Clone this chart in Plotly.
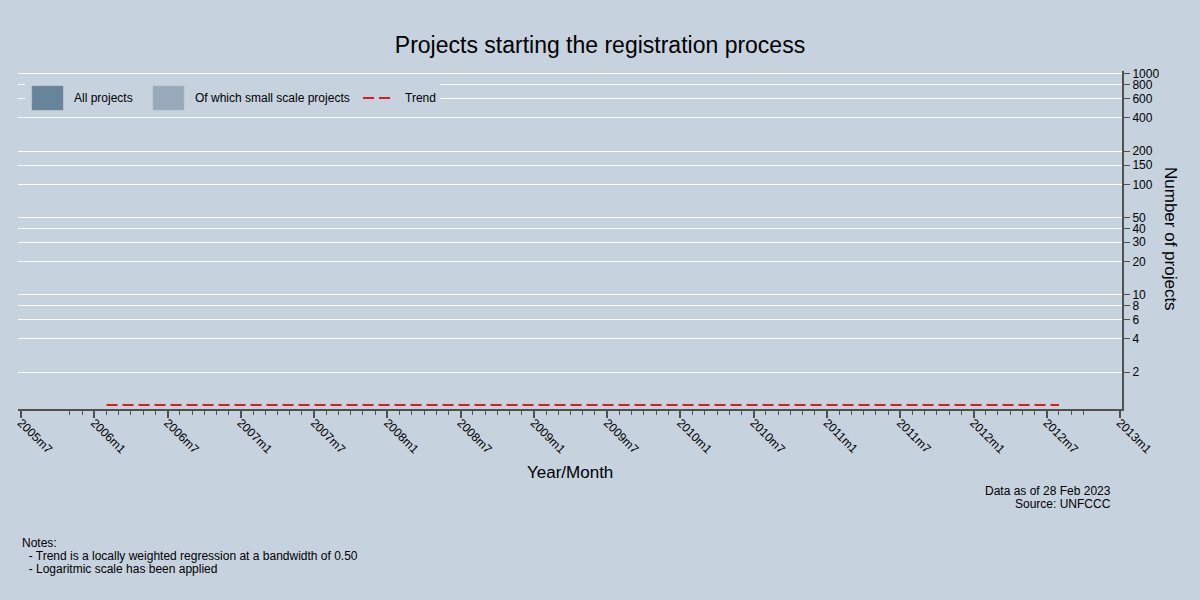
import plotly.graph_objects as go

# ---- data ----
# month index: 0 = 2005m7
def month_index(label):
    y, m = label.split("m")
    return (int(y) - 2005) * 12 + (int(m) - 7)

data_months = [f"{y}m{m}" for y in range(2005, 2013) for m in range(1, 13)
               if (y, m) >= (2005, 11) and (y, m) <= (2012, 10)]
all_projects = [
    0, 0, 0, 0, 0, 0, 0, 0, 0, 0, 0, 0, 0, 0, 0, 0, 0, 0, 0, 0, 0,
    0, 0, 0, 0, 0, 0, 0, 0, 0, 0, 0, 0, 0, 0, 0, 0, 0, 0, 0, 0, 0,
    0, 0, 0, 0, 0, 0, 0, 0, 0, 0, 0, 0, 0, 0, 0, 0, 0, 0, 0, 0, 0,
    0, 0, 0, 0, 0, 0, 0, 0, 0, 0, 0, 0, 0, 0, 0, 0, 0, 0, 0, 0, 0]
small_scale = [
    0, 0, 0, 0, 0, 0, 0, 0, 0, 0, 0, 0, 0, 0, 0, 0, 0, 0, 0, 0, 0,
    0, 0, 0, 0, 0, 0, 0, 0, 0, 0, 0, 0, 0, 0, 0, 0, 0, 0, 0, 0, 0,
    0, 0, 0, 0, 0, 0, 0, 0, 0, 0, 0, 0, 0, 0, 0, 0, 0, 0, 0, 0, 0,
    0, 0, 0, 0, 0, 0, 0, 0, 0, 0, 0, 0, 0, 0, 0, 0, 0, 0, 0, 0, 0]
trend_months = [f"{y}m{m}" for y in range(2006, 2013) for m in range(1, 13)
                if (y, m) >= (2006, 2) and (y, m) <= (2012, 8)]
trend = [
    1.01, 1.01, 1.01, 1.01, 1.01, 1.01, 1.01, 1.01, 1.01, 1.01,
    1.01, 1.01, 1.01, 1.01, 1.01, 1.01, 1.01, 1.01, 1.01, 1.01,
    1.01, 1.01, 1.01, 1.01, 1.01, 1.01, 1.01, 1.01, 1.01, 1.01,
    1.01, 1.01, 1.01, 1.01, 1.01, 1.01, 1.01, 1.01, 1.01, 1.01,
    1.01, 1.01, 1.01, 1.01, 1.01, 1.01, 1.01, 1.01, 1.01, 1.01,
    1.01, 1.01, 1.01, 1.01, 1.01, 1.01, 1.01, 1.01, 1.01, 1.01,
    1.01, 1.01, 1.01, 1.01, 1.01, 1.01, 1.01, 1.01, 1.01, 1.01,
    1.01, 1.01, 1.01, 1.01, 1.01, 1.01, 1.01, 1.01, 1.01]
x_tick_labels = ["2005m7", "2006m1", "2006m7", "2007m1", "2007m7", "2008m1",
                 "2008m7", "2009m1", "2009m7", "2010m1", "2010m7", "2011m1",
                 "2011m7", "2012m1", "2012m7", "2013m1"]
y_tick_vals = [2, 4, 6, 8, 10, 20, 30, 40, 50, 100, 150, 200, 400, 600, 800, 1000]
series_names = ["All projects", "Of which small scale projects", "Trend"]
source_lines = ["Data as of 28 Feb 2023", "Source: UNFCCC"]
note_lines = ["Notes:",
              "\u00a0\u00a0- Trend is a locally weighted regression at a bandwidth of 0.50",
              "\u00a0\u00a0- Logaritmic scale has been applied"]

# ---- styles ----
BG = "#C6D2DE"
C_ALL = "#67849A"
C_SMALL = "#98AABA"
C_TREND = "#E8161B"
AXIS = "#505050"
FONT = "Liberation Sans, Arial, sans-serif"

L, T, PW, PH = 18, 71, 1104, 338   # plot area in px
def px_x(p):
    return (p - L) / PW
def px_y(p):
    return (T + PH - p) / PH

x_data = [month_index(m) for m in data_months]
x_trend = [month_index(m) for m in trend_months]
x_major = [month_index(l) for l in x_tick_labels]
XR = [-0.25, 90.16]

fig = go.Figure()
fig.add_trace(go.Bar(x=x_data, y=all_projects, name=series_names[0],
                     marker=dict(color=C_ALL, line=dict(width=0)), width=0.9))
fig.add_trace(go.Bar(x=x_data, y=small_scale, name=series_names[1],
                     marker=dict(color=C_SMALL, line=dict(width=0)), width=0.9))
fig.add_trace(go.Scatter(x=x_trend, y=trend, mode="lines", name=series_names[2],
                         xaxis="x2",
                         line=dict(color=C_TREND, width=2, dash="11px,5px")))

fig.update_layout(
    width=1200, height=600,
    paper_bgcolor=BG, plot_bgcolor=BG,
    barmode="overlay", showlegend=False,
    margin=dict(l=L, r=1200 - L - PW, t=T, b=600 - T - PH),
    font=dict(family=FONT, size=12, color="#000000"),
    title=dict(text="Projects starting the registration process", x=0.5, xanchor="center",
               y=1 - 45 / 600, yanchor="middle", font=dict(size=23, family=FONT, color="#000")),
    xaxis=dict(
        range=XR,
        tickmode="array", tickvals=x_major, ticktext=x_tick_labels,
        tickangle=45,
        ticks="outside", ticklen=0, tickwidth=0, tickcolor=AXIS,
        showline=True, linecolor=AXIS, linewidth=2,
        showgrid=False, zeroline=False,
        tickfont=dict(size=12, family=FONT, color="#000"),
        minor=dict(tickmode="array", tickvals=x_data, ticks="outside", ticklen=4,
                   tickwidth=1, tickcolor=AXIS, showgrid=False),
    ),
    xaxis2=dict(
        range=XR, overlaying="x", anchor="y", side="bottom",
        tickmode="array", tickvals=x_major,
        ticks="outside", ticklen=8, tickwidth=1.5, tickcolor=AXIS,
        showticklabels=False, showline=False, showgrid=False, zeroline=False,
    ),
    yaxis=dict(
        type="log", side="right",
        range=[-0.032, 3.027],
        tickmode="array", tickvals=y_tick_vals, ticktext=[str(v) for v in y_tick_vals],
        ticks="outside", ticklen=6, tickwidth=1, tickcolor=AXIS,
        showline=True, linecolor=AXIS, linewidth=2,
        showgrid=True, gridcolor="#FFFFFF", gridwidth=1,
        zeroline=False,
        tickfont=dict(size=12, family=FONT, color="#000"),
    ),
)

# axis titles
fig.add_annotation(text="Year/Month", xref="paper", yref="paper", x=px_x(570), y=px_y(472),
                   showarrow=False, font=dict(size=17, family=FONT, color="#000"),
                   xanchor="center", yanchor="middle")
fig.add_annotation(text="Number of projects", xref="paper", yref="paper",
                   x=px_x(1171), y=px_y(239), textangle=90,
                   showarrow=False, font=dict(size=17, family=FONT, color="#000"),
                   xanchor="center", yanchor="middle")

# legend (drawn manually to match the boxed-key style)
fig.add_shape(type="rect", xref="paper", yref="paper",
              x0=px_x(25), x1=px_x(440), y0=px_y(117), y1=px_y(77),
              fillcolor=BG, line=dict(width=0), layer="above")
ly0, ly1, ymid = px_y(110), px_y(86), px_y(98)
fig.add_shape(type="rect", xref="paper", yref="paper",
              x0=px_x(32), x1=px_x(63), y0=ly0, y1=ly1,
              fillcolor=C_ALL, line=dict(width=0.5, color="#7890A4"), layer="above")
fig.add_shape(type="rect", xref="paper", yref="paper",
              x0=px_x(153), x1=px_x(184), y0=ly0, y1=ly1,
              fillcolor=C_SMALL, line=dict(width=0.5, color="#A4B4C2"), layer="above")
fig.add_shape(type="line", xref="paper", yref="paper",
              x0=px_x(363), x1=px_x(390), y0=ymid, y1=ymid,
              line=dict(color=C_TREND, width=2, dash="11px,5px"), layer="above")
for txt, p in zip(series_names, [72, 193, 403]):
    fig.add_annotation(text=txt, xref="paper", yref="paper", x=px_x(p), y=ymid,
                       showarrow=False, xanchor="left", yanchor="middle",
                       font=dict(size=12, family=FONT, color="#000"))

# source / notes (one annotation per line for tight line spacing)
for i, txt in enumerate(source_lines):
    fig.add_annotation(text=txt, xref="paper", yref="paper",
                       x=px_x(1113), y=px_y(491 + 13 * i), xanchor="right", yanchor="middle",
                       showarrow=False, font=dict(size=12, family=FONT, color="#000"))
for i, txt in enumerate(note_lines):
    fig.add_annotation(text=txt, xref="paper", yref="paper",
                       x=px_x(20), y=px_y(543 + 13 * i), xanchor="left", yanchor="middle",
                       showarrow=False, font=dict(size=12, family=FONT, color="#000"))

fig.write_html("out.html", config={"displayModeBar": False},
               post_script="document.body.style.margin='0';document.body.style.background='%s';" % BG)
